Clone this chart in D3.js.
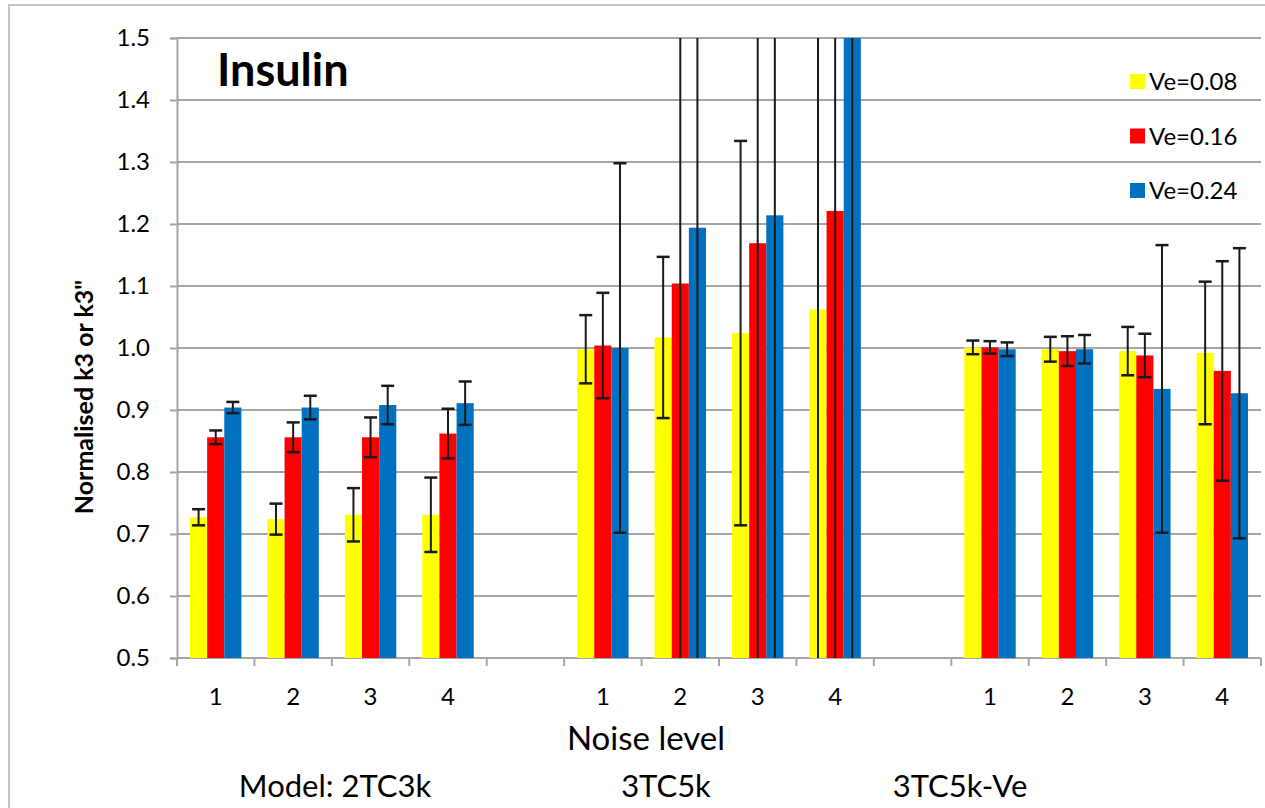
<!DOCTYPE html>
<html>
<head>
<meta charset="utf-8">
<script src="https://cdn.jsdelivr.net/npm/d3@7"></script>
<style>
  body { margin: 0; background: #fff; }
  text { font-family: Lato, "Open Sans", sans-serif; fill: #000; }
</style>
</head>
<body>
<svg></svg>
<script>

// slots along the x axis, "" = empty spacer slot between models
var slots = ['1', '2', '3', '4', '', '1', '2', '3', '4', '', '1', '2', '3', '4'];
var models = ['Model: 2TC3k', '3TC5k', '3TC5k-Ve'];
var series = ['Ve=0.08', 'Ve=0.16', 'Ve=0.24'];
var colors = ['#ffff00', '#ff0000', '#0070c0'];
var yTicks = [0.5, 0.6, 0.7, 0.8, 0.9, 1.0, 1.1, 1.2, 1.3, 1.4, 1.5];

// values per series, 12 bars (4 noise levels x 3 models)
var ve008 = [0.727, 0.724, 0.731, 0.731, 0.998, 1.017, 1.024, 1.062, 1.001, 0.998, 0.995, 0.992];
var ve016 = [0.856, 0.856, 0.856, 0.862, 1.004, 1.104, 1.169, 1.221, 1.001, 0.995, 0.988, 0.963];
var ve024 = [0.904, 0.904, 0.908, 0.911, 1.000, 1.194, 1.214, 1.560, 0.998, 0.998, 0.934, 0.927];

// error bar half widths
var err008 = [0.013, 0.025, 0.043, 0.060, 0.055, 0.130, 0.310, 0.650, 0.011, 0.020, 0.039, 0.115];
var err016 = [0.011, 0.024, 0.032, 0.040, 0.085, 0.700, 0.750, 0.800, 0.010, 0.024, 0.035, 0.177];
var err024 = [0.009, 0.019, 0.031, 0.035, 0.298, 0.750, 0.780, 1.100, 0.011, 0.023, 0.232, 0.234];

var W = 1265, H = 808;
var svg = d3.select('svg').attr('width', W).attr('height', H);

// plot area (note: "top" is taken by window.top, so px* names)
var pxL = 177, pxR = 1261, pxT = 38, pxB = 658;

// outer frame
svg.append('rect')
    .attr('x', 9).attr('y', 5)
    .attr('width', W + 20).attr('height', H + 20)
    .attr('fill', 'none')
    .attr('stroke', '#c4c4c4')
    .attr('stroke-width', 2)

var x = d3.scaleBand()
    .domain(d3.range(slots.length))
    .range([pxL, pxR])
    .paddingInner(0).paddingOuter(0)

var xs = d3.scaleBand()
    .domain(series)
    .range([0, x.step()])
    .paddingInner(0).paddingOuter(0.76)

var y = d3.scaleLinear().domain([0.5, 1.5]).range([pxB, pxT])

// slot index for each of the 12 bars
var barSlots = d3.range(slots.length).filter(function(i) { return slots[i] != ''; });

// grid
svg.append('g')
    .selectAll('line')
    .data(yTicks)
    .enter()
    .append('line')
    .attr('x1', pxL).attr('x2', pxR)
    .attr('y1', function(d) { return y(d); })
    .attr('y2', function(d) { return y(d); })
    .attr('stroke', '#a6a6a6')
    .attr('stroke-width', 2)

// y axis
var yAxis = svg.append('g')
    .attr('transform', 'translate(' + pxL + ',0)')
    .call(d3.axisLeft(y).tickValues(yTicks).tickFormat(d3.format('.1f')).tickSize(7).tickPadding(20))
yAxis.select('.domain').attr('stroke', '#a6a6a6').attr('stroke-width', 2)
yAxis.selectAll('.tick line').attr('stroke', '#a6a6a6').attr('stroke-width', 2)
yAxis.selectAll('.tick text')
    .style('font-family', 'Lato, sans-serif')
    .style('font-size', '24px')
    .attr('fill', '#000')

// x axis: boundary ticks
svg.append('g')
    .selectAll('line')
    .data(d3.range(slots.length + 1))
    .enter()
    .append('line')
    .attr('x1', function(i) { return pxL + i * x.step(); })
    .attr('x2', function(i) { return pxL + i * x.step(); })
    .attr('y1', pxB).attr('y2', pxB + 8)
    .attr('stroke', '#a6a6a6')
    .attr('stroke-width', 2)

svg.append('g')
    .selectAll('text')
    .data(slots)
    .enter()
    .append('text')
    .attr('x', function(d, i) { return x(i) + x.bandwidth() / 2; })
    .attr('y', 705)
    .attr('text-anchor', 'middle')
    .style('font-size', '24px')
    .text(function(d) { return d; })

// bars
var clip = svg.append('clipPath').attr('id', 'plotclip')
clip.append('rect').attr('x', pxL).attr('y', pxT).attr('width', pxR - pxL).attr('height', pxB - pxT)

var plot = svg.append('g').attr('clip-path', 'url(#plotclip)')

var vals = [ve008, ve016, ve024];
var errs = [err008, err016, err024];

series.forEach(function(s, k) {
    var rows = vals[k].map(function(v, j) { return { slot: barSlots[j], v: v, e: errs[k][j] }; });

    plot.append('g')
        .selectAll('rect')
        .data(rows)
        .enter()
        .append('rect')
        .attr('x', function(d) { return x(d.slot) + xs(s); })
        .attr('width', xs.bandwidth())
        .attr('y', function(d) { return y(d.v); })
        .attr('height', function(d) { return y(0.5) - y(d.v); })
        .attr('fill', colors[k])
})

// error bars on top
series.forEach(function(s, k) {
    var rows = vals[k].map(function(v, j) { return { slot: barSlots[j], v: v, e: errs[k][j] }; });
    var g = plot.append('g').attr('stroke', '#1a1a1a').attr('stroke-width', 2)
    var cx = function(d) { return x(d.slot) + xs(s) + xs.bandwidth() / 2; };

    g.selectAll('line.v')
        .data(rows)
        .enter()
        .append('line')
        .attr('x1', cx).attr('x2', cx)
        .attr('y1', function(d) { return y(d.v + d.e); })
        .attr('y2', function(d) { return y(d.v - d.e); })

    ;[1, -1].forEach(function(sg) {
        g.append('g')
            .selectAll('line')
            .data(rows)
            .enter()
            .append('line')
            .attr('x1', function(d) { return cx(d) - 6.5; })
            .attr('x2', function(d) { return cx(d) + 6.5; })
            .attr('y1', function(d) { return y(d.v + sg * d.e); })
            .attr('y2', function(d) { return y(d.v + sg * d.e); })
            .attr('stroke-width', 2.5)
    })
})

// title
svg.append('text')
    .attr('x', 217).attr('y', 86)
    .style('font-size', '45px')
    .style('font-weight', 'bold')
    .text('Insulin')

// legend
var leg = svg.append('g')
    .selectAll('g')
    .data(series)
    .enter()
    .append('g')
    .attr('transform', function(d, i) { return 'translate(1130,' + (74 + i * 54.5) + ')'; })
leg.append('rect')
    .attr('width', 15).attr('height', 15)
    .attr('fill', function(d, i) { return colors[i]; })
leg.append('text')
    .attr('x', 19).attr('y', 16)
    .style('font-size', '24px')
    .text(function(d) { return d; })

// axis titles
svg.append('text')
    .attr('transform', 'translate(93,397) rotate(-90)')
    .attr('text-anchor', 'middle')
    .style('font-size', '25px')
    .style('font-weight', 'bold')
    .text('Normalised k3 or k3"')

svg.append('text')
    .attr('x', 646).attr('y', 750)
    .attr('text-anchor', 'middle')
    .style('font-size', '33px')
    .text('Noise level')

var modelX = [335, 666, 960];
svg.append('g')
    .selectAll('text')
    .data(models)
    .enter()
    .append('text')
    .attr('x', function(d, i) { return modelX[i]; })
    .attr('y', 797)
    .attr('text-anchor', 'middle')
    .style('font-size', '31px')
    .text(function(d) { return d; })

</script>
</body>
</html>
